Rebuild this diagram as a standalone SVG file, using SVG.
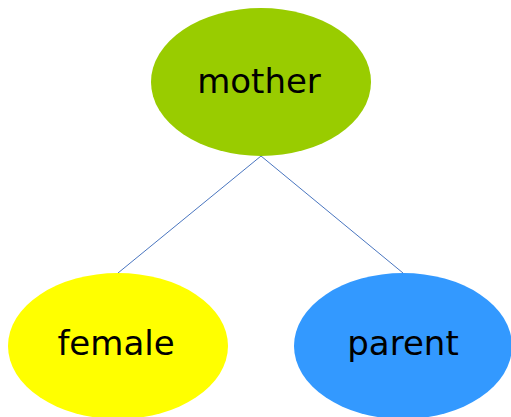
<svg xmlns="http://www.w3.org/2000/svg" width="511" height="417" viewBox="0 0 511 417">
<style>
.lbl{font-family:"DejaVu Sans",Verdana,sans-serif;font-size:34px;fill:#000;text-anchor:middle}
.edge{stroke:#4a76c0;stroke-width:1;fill:none}
</style>
<rect width="511" height="417" fill="#fff"/>
<g id="connectors">
<line class="edge" x1="261" y1="156" x2="118" y2="273"/>
<line class="edge" x1="261" y1="156" x2="403" y2="273"/>
</g>
<g id="mother">
<ellipse cx="261" cy="82" rx="110" ry="74" fill="#99cc00"/>
<text class="lbl" x="259" y="93">mother</text>
</g>
<g id="female">
<ellipse cx="118" cy="346" rx="110" ry="73" fill="#ffff00"/>
<text class="lbl" x="116" y="355">female</text>
</g>
<g id="parent">
<ellipse cx="403" cy="346" rx="109" ry="73" fill="#3399ff"/>
<text class="lbl" x="403" y="355">parent</text>
</g>
</svg>
